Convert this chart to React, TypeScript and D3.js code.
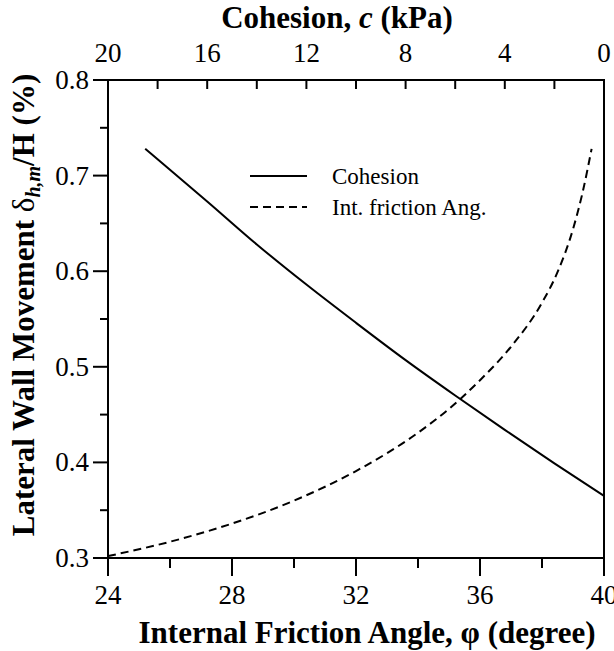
import React, { useRef, useEffect } from 'react';
import * as d3 from 'd3';

// cohesion curve: c (kPa) vs lateral wall movement (%)
const cohesionC = [18.5, 18, 16, 14, 12, 10, 8, 6, 4, 2, 0];
const cohesionY = [0.728, 0.717, 0.673, 0.628, 0.586, 0.546, 0.507, 0.47, 0.434, 0.399, 0.365];

// internal friction angle curve: phi (deg) vs lateral wall movement (%)
const phiX = [24, 26, 28, 30, 32, 34, 35, 36, 37, 38, 38.5, 39, 39.3, 39.6];
const phiY = [0.302, 0.317, 0.336, 0.36, 0.391, 0.431, 0.456, 0.486, 0.521, 0.567, 0.599, 0.644, 0.681, 0.728];

const phiTicks = [24, 28, 32, 36, 40];
const phiMinor = [26, 30, 34, 38];
const cTicks = [20, 16, 12, 8, 4, 0];
const cMinor = [18, 14, 10, 6, 2];
const yTicks = [0.3, 0.4, 0.5, 0.6, 0.7, 0.8];
const yMinor = [0.35, 0.45, 0.55, 0.65, 0.75];

const FONT = "'Liberation Serif', 'Times New Roman', serif";

const App = () => {
  const ref = useRef<SVGSVGElement>(null);

  useEffect(() => {
    const svg = d3.select(ref.current);
    svg.selectAll('*').remove();

    const left = 108, right = 604, top = 80, bottom = 558;

    const x = d3.scaleLinear().domain([24, 40]).range([left, right]);
    const xc = d3.scaleLinear().domain([20, 0]).range([left, right]);
    const y = d3.scaleLinear().domain([0.3, 0.8]).range([bottom, top]);

    const g = svg.append('g');

    // frame
    g.append('rect')
      .attr('x', left).attr('y', top)
      .attr('width', right - left).attr('height', bottom - top)
      .attr('fill', 'none').attr('stroke', '#000').attr('stroke-width', 2);

    // bottom ticks (outward)
    g.selectAll('.bt').data(phiTicks).enter().append('line')
      .attr('x1', (d) => x(d)).attr('x2', (d) => x(d))
      .attr('y1', bottom).attr('y2', bottom + 18)
      .attr('stroke', '#000').attr('stroke-width', 2);
    g.selectAll('.bm').data(phiMinor).enter().append('line')
      .attr('x1', (d) => x(d)).attr('x2', (d) => x(d))
      .attr('y1', bottom).attr('y2', bottom + 10)
      .attr('stroke', '#000').attr('stroke-width', 2);
    g.selectAll('.bl').data(phiTicks).enter().append('text')
      .attr('x', (d) => x(d)).attr('y', bottom + 46)
      .attr('text-anchor', 'middle')
      .attr('font-family', FONT).attr('font-size', 27)
      .text((d) => d);

    // top ticks (inward)
    g.selectAll('.tt').data(cTicks.concat(cMinor)).enter().append('line')
      .attr('x1', (d) => xc(d)).attr('x2', (d) => xc(d))
      .attr('y1', top).attr('y2', top + 9)
      .attr('stroke', '#000').attr('stroke-width', 2);
    g.selectAll('.tl').data(cTicks).enter().append('text')
      .attr('x', (d) => xc(d)).attr('y', top - 18)
      .attr('text-anchor', 'middle')
      .attr('font-family', FONT).attr('font-size', 27)
      .text((d) => d);

    // left ticks (outward)
    g.selectAll('.lt').data(yTicks).enter().append('line')
      .attr('x1', left - 15).attr('x2', left)
      .attr('y1', (d) => y(d)).attr('y2', (d) => y(d))
      .attr('stroke', '#000').attr('stroke-width', 2);
    g.selectAll('.lm').data(yMinor).enter().append('line')
      .attr('x1', left - 8).attr('x2', left)
      .attr('y1', (d) => y(d)).attr('y2', (d) => y(d))
      .attr('stroke', '#000').attr('stroke-width', 2);
    g.selectAll('.ll').data(yTicks).enter().append('text')
      .attr('x', left - 19).attr('y', (d) => y(d) + 9)
      .attr('text-anchor', 'end')
      .attr('font-family', FONT).attr('font-size', 27)
      .text((d) => d.toFixed(1));

    // curves
    const solid = d3.line<number>()
      .x((d, i) => xc(cohesionC[i]))
      .y((d) => y(d))
      .curve(d3.curveMonotoneX);
    g.append('path')
      .attr('d', solid(cohesionY))
      .attr('fill', 'none').attr('stroke', '#000').attr('stroke-width', 2);

    const dashed = d3.line<number>()
      .x((d, i) => x(phiX[i]))
      .y((d) => y(d))
      .curve(d3.curveMonotoneX);
    g.append('path')
      .attr('d', dashed(phiY))
      .attr('fill', 'none').attr('stroke', '#000').attr('stroke-width', 2)
      .attr('stroke-dasharray', '8,5');

    // legend
    const lg = g.append('g').attr('font-family', FONT).attr('font-size', 23);
    lg.append('line').attr('x1', 250).attr('x2', 307).attr('y1', 176).attr('y2', 176)
      .attr('stroke', '#000').attr('stroke-width', 2);
    lg.append('text').attr('x', 332).attr('y', 184).text('Cohesion');
    lg.append('line').attr('x1', 250).attr('x2', 307).attr('y1', 207).attr('y2', 207)
      .attr('stroke', '#000').attr('stroke-width', 2).attr('stroke-dasharray', '8,5');
    lg.append('text').attr('x', 332).attr('y', 215).text('Int. friction Ang.');

    // axis titles
    const tt = g.append('text')
      .attr('x', 337).attr('y', 28)
      .attr('text-anchor', 'middle')
      .attr('font-family', FONT).attr('font-size', 31).attr('font-weight', 'bold');
    tt.append('tspan').text('Cohesion, ');
    tt.append('tspan').attr('font-style', 'italic').text('c');
    tt.append('tspan').text(' (kPa)');

    g.append('text')
      .attr('x', 367).attr('y', 643)
      .attr('text-anchor', 'middle')
      .attr('font-family', FONT).attr('font-size', 31).attr('font-weight', 'bold')
      .text('Internal Friction Angle, \u03c6 (degree)');

    const yt = g.append('text')
      .attr('transform', `translate(34, 305) rotate(-90)`)
      .attr('text-anchor', 'middle')
      .attr('font-family', FONT).attr('font-size', 31).attr('font-weight', 'bold');
    yt.append('tspan').text('Lateral Wall Movement ');
    yt.append('tspan').attr('font-weight', 'normal').text('\u03b4');
    yt.append('tspan').attr('font-style', 'italic')
      .attr('font-size', 20).attr('dy', 6).text('h,m');
    yt.append('tspan').attr('dy', -6).text('/H (%)');
  }, []);

  return (
    <svg ref={ref} width={614} height={651} style={{ position: 'absolute', left: 0, top: 0, background: '#fff' }} />
  );
};

export default App;
